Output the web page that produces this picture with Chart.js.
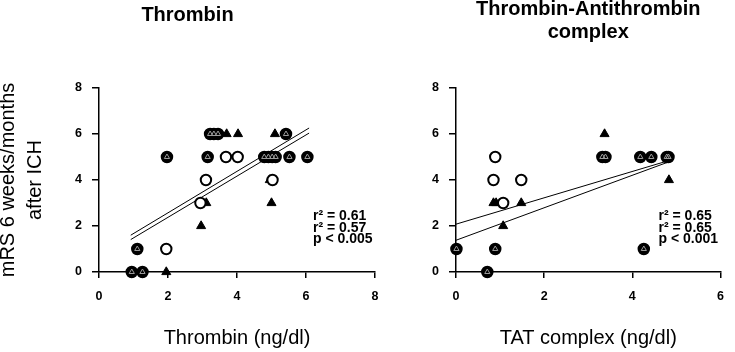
<!DOCTYPE html>
<html><head><meta charset="utf-8">
<script src="https://cdn.jsdelivr.net/npm/chart.js@4/dist/chart.umd.min.js"></script>
<style>
html,body{margin:0;padding:0;background:#fff;}
#wrap{position:relative;width:735px;height:352px;overflow:hidden;background:#fff;}
canvas{position:absolute;top:0;}
#c1{left:0;}
#c2{left:390px;}
</style></head><body>
<div id="wrap">
<canvas id="c1" width="467" height="352"></canvas>
<canvas id="c2" width="345" height="352"></canvas>
</div>
<script>
// ---- Thrombin panel data ----
const thrCombX = [0.95, 1.26, 1.11, 1.97, 3.15, 3.22, 3.33, 3.45, 4.79, 4.91, 5.02, 5.12, 5.42, 5.52, 6.04];
const thrCombY = [0, 0, 1, 5, 5, 6, 6, 6, 5, 5, 5, 5, 6, 5, 5];
const thrOpenX = [1.95, 2.94, 3.10, 3.68, 4.02, 5.03];
const thrOpenY = [1, 3, 4, 5, 5, 4];
const thrTriX = [1.95, 2.96, 3.11, 3.70, 4.03, 5.00, 4.95, 5.10];
const thrTriY = [0, 2, 3, 6, 6, 3, 4, 6];
const thrFitX = [0.92, 6.09];
const thrFit1Y = [1.60, 6.26];
const thrFit2Y = [1.41, 6.04];
const thrStats = ['r\u00B2 = 0.61', 'r\u00B2 = 0.57', 'p < 0.005'];

// ---- TAT complex panel data ----
const tatCombX = [0.01, 0.71, 0.89, 3.32, 3.39, 4.18, 4.43, 4.78, 4.82, 4.26];
const tatCombY = [1, 0, 1, 5, 5, 5, 5, 5, 5, 1];
const tatOpenX = [0.89, 0.85, 1.48, 1.07];
const tatOpenY = [5, 4, 4, 3];
const tatTriX = [0.85, 0.91, 1.48, 1.07, 3.37, 4.83];
const tatTriY = [3, 3, 3, 2, 6, 4];
const tatFitX = [0, 4.80];
const tatFit1Y = [2.08, 4.83];
const tatFit2Y = [1.38, 4.77];
const tatStats = ['r\u00B2 = 0.65', 'r\u00B2 = 0.65', 'p < 0.001'];

// ---- tick labels ----
const yTicks = [0, 2, 4, 6, 8];
const thrXTicks = [0, 2, 4, 6, 8];
const tatXTicks = [0, 2, 4, 6];

const FAMILY = '"Liberation Sans", Arial, Helvetica, sans-serif';
Chart.defaults.font.family = FAMILY;
Chart.defaults.color = '#000';

const pts = (xs, ys) => xs.map((x, i) => ({x, y: ys[i]}));

function datasets(combX, combY, openX, openY, triX, triY, fitX, fit1Y, fit2Y) {
  return [
    {data: pts(fitX, fit1Y), showLine: true, borderColor: '#000', borderWidth: 1, pointRadius: 0, order: 10, clip: false},
    {data: pts(fitX, fit2Y), showLine: true, borderColor: '#000', borderWidth: 1, pointRadius: 0, order: 10, clip: false},
    {data: pts(triX, triY), pointStyle: 'triangle', pointRadius: 5.2, backgroundColor: '#000', borderColor: '#000', borderWidth: 1, order: 3, clip: false},
    {data: pts(openX, openY), pointStyle: 'circle', pointRadius: 5.2, backgroundColor: '#fff', borderColor: '#000', borderWidth: 2, order: 2, clip: false},
    {data: pts(combX, combY), pointStyle: 'circle', pointRadius: 5.5, backgroundColor: '#000', borderColor: '#000', borderWidth: 1.5, order: 1, clip: false},
    {data: pts(combX, combY), pointStyle: 'triangle', pointRadius: 3, backgroundColor: 'rgba(0,0,0,0)', borderColor: '#9a9a9a', borderWidth: 1, order: 0, clip: false}
  ];
}

function statsPlugin(lines) {
  return {
    id: 'stats',
    afterDatasetsDraw(chart) {
      const {ctx, chartArea} = chart;
      ctx.save();
      ctx.font = 'bold 14px ' + FAMILY;
      ctx.fillStyle = '#000';
      ctx.textAlign = 'left';
      ctx.textBaseline = 'alphabetic';
      lines.forEach((t, i) => ctx.fillText(t, chartArea.right - 62, chartArea.bottom - 52 + i * 11.6));
      ctx.restore();
    }
  };
}

function axisCommon(tickLen) {
  return {
    grid: {display: true, drawOnChartArea: false, drawTicks: true, tickLength: tickLen, color: '#000', lineWidth: 1.5, tickColor: '#000', tickWidth: 1.5},
    border: {display: true, color: '#000', width: 1.5}
  };
}

function makeChart(id, cfg) {
  const ax = axisCommon(6), ay = axisCommon(7);
  return new Chart(document.getElementById(id), {
    type: 'scatter',
    data: {datasets: datasets(...cfg.data)},
    plugins: [statsPlugin(cfg.stats)],
    options: {
      responsive: false,
      animation: false,
      events: [],
      layout: {padding: {left: 0, right: cfg.padRight, top: 0, bottom: 0}},
      plugins: {
        legend: {display: false},
        tooltip: {enabled: false},
        title: {
          display: true, text: cfg.title, color: '#000', fullSize: cfg.fullSize,
          font: {family: FAMILY, size: 20, weight: 'bold', lineHeight: cfg.titleLH},
          padding: cfg.titlePad
        }
      },
      scales: {
        x: {
          type: 'linear', min: 0, max: cfg.xMax,
          afterBuildTicks: s => { s.ticks = cfg.xTicks.map(v => ({value: v})); },
          ticks: {font: {size: 12.5, weight: 'bold'}, color: '#000', padding: 11, maxRotation: 0},
          grid: ax.grid, border: ax.border,
          title: {display: true, text: cfg.xTitle, color: '#000', font: {size: 20, lineHeight: 1.2}, padding: {top: 0, bottom: 1.2}},
          afterFit: s => { s.height = 80; }
        },
        y: {
          type: 'linear', min: 0, max: 8,
          afterBuildTicks: s => { s.ticks = yTicks.map(v => ({value: v})); },
          ticks: {font: {size: 12.5, weight: 'bold'}, color: '#000', padding: 10},
          grid: ay.grid, border: ay.border,
          title: cfg.yTitle ? {display: true, text: cfg.yTitle, color: '#000', font: {size: 20, lineHeight: '27px'}, padding: {top: -5.5, bottom: 0}} : {display: false},
          afterFit: s => { s.width = cfg.yWidth; }
        }
      }
    }
  });
}

makeChart('c1', {
  data: [thrCombX, thrCombY, thrOpenX, thrOpenY, thrTriX, thrTriY, thrFitX, thrFit1Y, thrFit2Y],
  stats: thrStats,
  title: 'Thrombin', fullSize: true, titleLH: 1.2, titlePad: {top: 3.8, bottom: 60.2},
  xMax: 8, xTicks: thrXTicks, xTitle: 'Thrombin (ng/dl)',
  yTitle: ['mRS 6 weeks/months', 'after ICH'], yWidth: 99, padRight: 92
});

makeChart('c2', {
  data: [tatCombX, tatCombY, tatOpenX, tatOpenY, tatTriX, tatTriY, tatFitX, tatFit1Y, tatFit2Y],
  stats: tatStats,
  title: ['Thrombin-Antithrombin', 'complex'], fullSize: false, titleLH: '22.3px', titlePad: {top: -1.35, bottom: 44.75},
  xMax: 6, xTicks: tatXTicks, xTitle: 'TAT complex (ng/dl)',
  yTitle: null, yWidth: 66, padRight: 5
});
</script>
</body></html>
